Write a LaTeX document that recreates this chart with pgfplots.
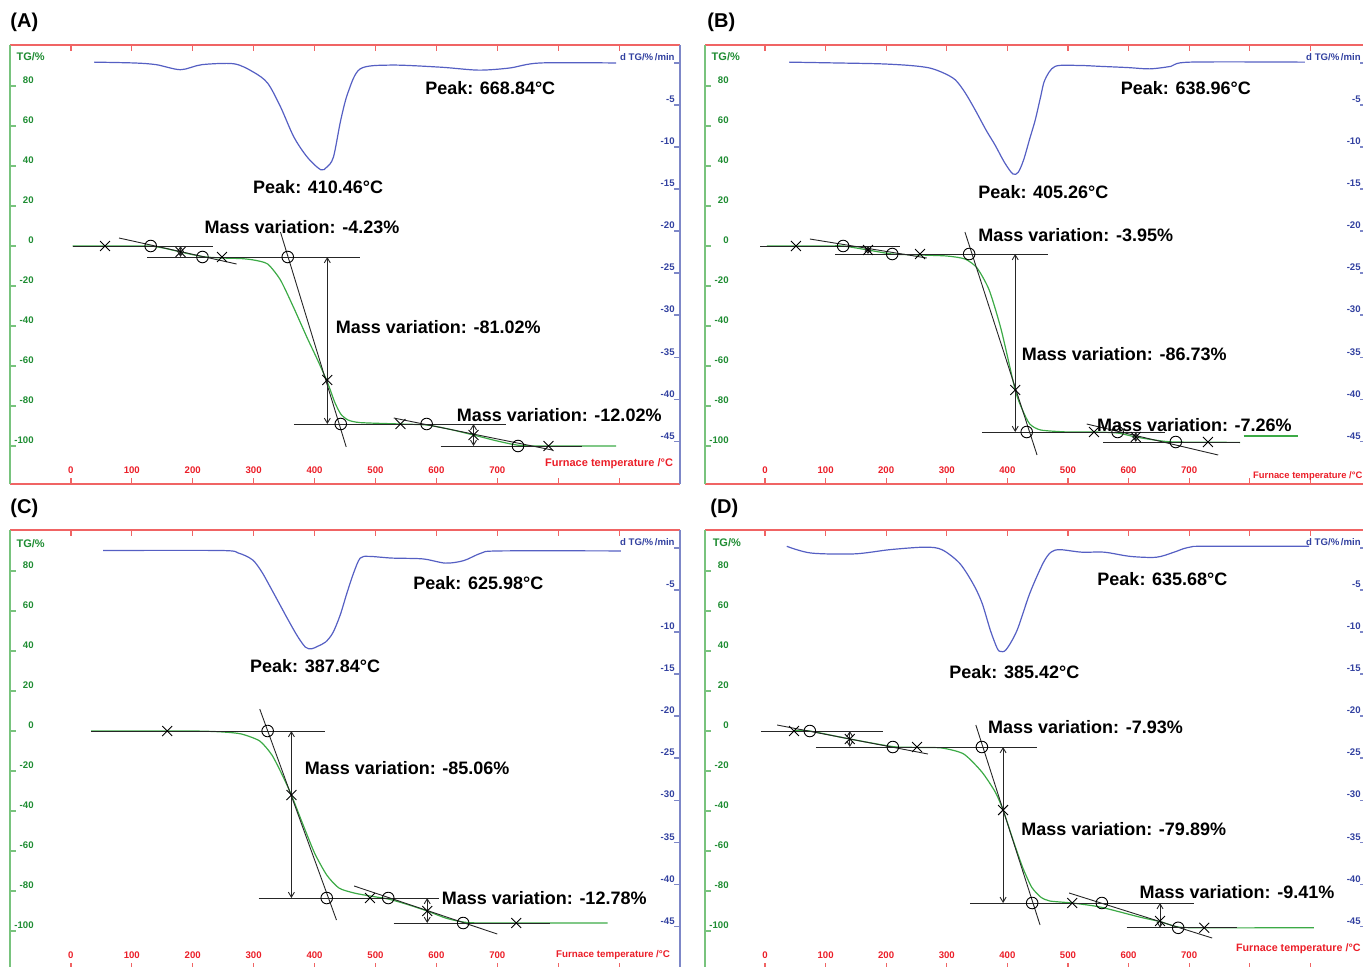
\documentclass[border=0pt]{standalone}
\usepackage{pgfplots}
\pgfplotsset{compat=1.18}
\usepackage{fontspec}
\setmainfont{Liberation Sans}
\usetikzlibrary{arrows.meta}
\definecolor{redframe}{RGB}{240,100,100}
\definecolor{redlab}{RGB}{235,30,40}
\definecolor{greenframe}{RGB}{120,195,125}
\definecolor{greenlab}{RGB}{30,140,50}
\definecolor{blueframe}{RGB}{125,135,200}
\definecolor{bluelab}{RGB}{50,65,160}
\definecolor{dtgcol}{RGB}{85,95,195}
\definecolor{tgcol}{RGB}{60,170,70}
\newcommand{\tickfont}{\fontsize{4.8}{5}\selectfont\bfseries}
\newcommand{\annfont}{\fontsize{9}{10}\selectfont\bfseries}
\newcommand{\ftfont}{\fontsize{5.5}{6}\selectfont\bfseries}
\pgfplotsset{
  base/.style={scale only axis, width=335pt, height=219.5pt, xmin=-100, xmax=1000, clip=false, tick align=inside, major tick length=3.2pt},
  narrow/.style={width=330.5pt, xmin=-99, xmax=992},
  tgaxis/.style={base, ymin=-119, ymax=100.5,
    axis x line*=box, axis y line*=left,
    x axis line style={draw=redframe, line width=0.7pt},
    y axis line style={draw=greenframe, line width=0.7pt},
    xtick={0,100,...,900},
    xticklabels={0,100,200,300,400,500,600,700,{},{}},
    xtick style={draw=redframe, line width=0.6pt},
    xticklabel style={font=\tickfont, text=redlab, anchor=south, yshift=5pt, inner sep=0pt},
    ytick={-100,-80,...,80},
    yticklabels={-100,-80,-60,-40,-20,0,20,40,60,80},
    ytick style={draw=greenframe, line width=0.6pt},
    yticklabel style={font=\tickfont, text=greenlab, anchor=south east, xshift=12pt, yshift=0.8pt, inner sep=0pt},
  },
  dtgaxis/.style={base, ymin=-50.1, ymax=2.14,
    axis x line=none, axis y line*=right,
    y axis line style={draw=blueframe, line width=0.7pt},
    ytick={-45,-40,...,0},
    yticklabels={-45,-40,-35,-30,-25,-20,-15,-10,-5,{d TG/\%\,/min}},
    ytick style={draw=blueframe, line width=0.6pt},
    yticklabel style={font=\tickfont, text=bluelab, anchor=south east, xshift=-2.5pt, yshift=0.8pt, inner sep=0pt},
  },
  tgc/.style={tgcol, line width=0.6pt, smooth, tension=0.4, no markers},
  dtgc/.style={dtgcol, line width=0.6pt, smooth, tension=0.5, no markers},
  tl/.style={black!85, line width=0.45pt, no markers},
  ar/.style={black!85, line width=0.45pt, no markers, {Straight Barb[length=2.5pt,width=3pt]}-{Straight Barb[length=2.5pt,width=3pt]}},
  xm/.style={only marks, mark=x, mark size=3.5pt, black, mark options={line width=0.45pt}},
  om/.style={only marks, mark=o, mark size=2.9pt, black, mark options={line width=0.45pt}},
}
\begin{document}
\begin{tikzpicture}
\useasboundingbox (0,0) rectangle (681.5pt,483pt);
\clip (0,0) rectangle (681.5pt,483pt);
\node[font=\fontsize{10}{12}\selectfont\bfseries, anchor=west, inner sep=0pt] at (5pt,472pt) {(A)};
\node[font=\fontsize{10}{12}\selectfont\bfseries, anchor=west, inner sep=0pt] at (353.5pt,472pt) {(B)};
\node[font=\fontsize{10}{12}\selectfont\bfseries, anchor=west, inner sep=0pt] at (5pt,229pt) {(C)};
\node[font=\fontsize{10}{12}\selectfont\bfseries, anchor=west, inner sep=0pt] at (355pt,229pt) {(D)};

% ================= Panel A =================
\begin{axis}[tgaxis, at={(5pt,460.5pt)}, anchor=north west]
\addplot[tgc] coordinates {(3,0) (100,0) (131,0) (155,-1.2) (180,-3) (216,-5.3) (248,-6) (280,-6.3) (300,-7) (323,-9) (344,-17) (366,-31) (388,-46) (405,-57) (421,-68) (433,-78) (443,-84) (455,-87) (475,-88.3) (541,-89) (584,-89.5) (620,-91.5) (661,-94.5) (700,-97.5) (734,-99.6) (770,-100) (895,-100)};
\addplot[tl] coordinates {(3,0) (233,0)};
\addplot[tl] coordinates {(79,4) (272,-9)};
\addplot[tl] coordinates {(125,-5.5) (475,-5.5)};
\addplot[tl] coordinates {(344,7) (452,-100.5)};
\addplot[tl] coordinates {(366,-89) (715,-89)};
\addplot[tl] coordinates {(530,-86) (790,-102)};
\addplot[tl] coordinates {(607,-100) (839,-100)};
\addplot[ar] coordinates {(180,0) (180,-5.5)};
\addplot[ar] coordinates {(421,-5.5) (421,-89)};
\addplot[ar] coordinates {(661,-89) (661,-100)};
\addplot[om] coordinates {(131,0) (216,-5.5) (356,-5.5) (443,-89) (584,-89) (734,-100)};
\addplot[xm] coordinates {(56,0) (180,-3) (248,-5.5) (421,-67) (541,-89) (661,-94.5) (784,-100)};
\node[font=\annfont] at (axis cs:688.5,79) {Peak: 668.84°C};
\node[font=\annfont] at (axis cs:406,29.5) {Peak: 410.46°C};
\node[font=\annfont] at (axis cs:379.5,9.5) {Mass variation: -4.23\%};
\node[font=\annfont] at (axis cs:603,-40.5) {Mass variation: -81.02\%};
\node[font=\annfont] at (axis cs:801.6,-84.5) {Mass variation: -12.02\%};
\node[font=\ftfont, text=redlab] at (axis cs:883.6,-109) {Furnace temperature /°C};
\node[font=\ftfont, text=greenlab] at (axis cs:-66,94.5) {TG/\%};
\end{axis}
\begin{axis}[dtgaxis, at={(5pt,460.5pt)}, anchor=north west]
\addplot[dtgc] coordinates {(38,0.1) (104,0) (140,-0.2) (180,-0.8) (215,-0.2) (268,-0.1) (300,-1.1) (323,-2.4) (344,-5.2) (366,-8.8) (388,-11.2) (410,-12.7) (420,-12.4) (431,-11.2) (443,-6.8) (455,-3.5) (475,-0.7) (525,-0.25) (607,-0.5) (669,-0.85) (720,-0.6) (770,0) (895,0)};
\end{axis}

% ================= Panel B =================
\begin{axis}[tgaxis, narrow, at={(352.5pt,460.5pt)}, anchor=north west]
\addplot[tgc] coordinates {(3,0) (100,0) (129,0) (170,-2) (210,-4) (256,-4.5) (300,-5) (330,-6.5) (350,-11) (370,-22) (390,-42) (413,-72) (425,-82) (437,-89) (455,-92) (500,-93) (543,-93) (582,-93.5) (612,-95.5) (650,-97.3) (678,-98) (784,-98.2)};
\addplot[tgcol, line width=0.6pt] coordinates {(790,-95) (880,-95)};
\addplot[tl] coordinates {(-8,0) (223,0)};
\addplot[tl] coordinates {(74,3.5) (267,-6)};
\addplot[tl] coordinates {(116,-4) (467,-4)};
\addplot[tl] coordinates {(330,7) (449,-104.5)};
\addplot[tl] coordinates {(358,-93) (660,-93)};
\addplot[tl] coordinates {(531,-89) (748,-104.5)};
\addplot[tl] coordinates {(558,-98) (784,-98)};
\addplot[ar] coordinates {(170,0) (170,-4)};
\addplot[ar] coordinates {(413,-4) (413,-93)};
\addplot[ar] coordinates {(612,-93) (612,-98)};
\addplot[om] coordinates {(129,0) (210,-4) (337,-4) (432,-93) (582,-93) (678,-98)};
\addplot[xm] coordinates {(51,0) (170,-2) (256,-4) (413,-72) (543,-93) (612,-95.5) (731,-98)};
\node[font=\annfont] at (axis cs:694.7,79) {Peak: 638.96°C};
\node[font=\annfont] at (axis cs:459.6,27) {Peak: 405.26°C};
\node[font=\annfont] at (axis cs:513,5.5) {Mass variation: -3.95\%};
\node[font=\annfont] at (axis cs:593,-54) {Mass variation: -86.73\%};
\node[font=\annfont] at (axis cs:708.7,-89.5) {Mass variation: -7.26\%};
\node[font=\fontsize{4.7}{5}\selectfont\bfseries, text=redlab, anchor=west, inner sep=0pt] at (axis cs:805,-115) {Furnace temperature /°C};
\node[font=\ftfont, text=greenlab] at (axis cs:-64.7,94.5) {TG/\%};
\end{axis}
\begin{axis}[dtgaxis, narrow, at={(352.5pt,460.5pt)}, anchor=north west]
\addplot[dtgc] coordinates {(40,0.1) (120,0) (190,-0.1) (240,-0.3) (272,-0.6) (295,-1.2) (314,-2) (330,-3.5) (347,-5.6) (365,-8) (380,-9.8) (395,-11.8) (409,-13.2) (418,-13) (427,-11.5) (437,-9) (446,-6.8) (455,-4) (462,-2) (479,-0.4) (520,-0.3) (553,-0.4) (600,-0.55) (635,-0.7) (670,-0.4) (701,0.1) (891,0.1)};
\end{axis}

% ================= Panel C =================
\begin{axis}[tgaxis, at={(5pt,218pt)}, anchor=north west]
\addplot[tgc] coordinates {(33,0) (200,0) (250,-0.5) (280,-1.5) (310,-5) (330,-12) (347,-22) (362,-32) (380,-46) (400,-61) (420,-72) (440,-78.5) (465,-81) (491,-82.5) (521,-84) (550,-86.5) (585,-90) (615,-93.5) (644,-95.5) (680,-96) (881,-96)};
\addplot[tl] coordinates {(33,0) (417,0)};
\addplot[tl] coordinates {(310,11) (436,-94.5)};
\addplot[tl] coordinates {(308,-83.5) (605,-83.5)};
\addplot[tl] coordinates {(465,-77.5) (700,-101.5)};
\addplot[tl] coordinates {(530,-96) (787,-96)};
\addplot[ar] coordinates {(362,0) (362,-83.5)};
\addplot[ar] coordinates {(585,-83.5) (585,-96)};
\addplot[om] coordinates {(323,0) (420,-83.5) (521,-83.5) (644,-96)};
\addplot[xm] coordinates {(158,0) (362,-32) (491,-83.5) (585,-90) (731,-96)};
\node[font=\annfont] at (axis cs:669,74) {Peak: 625.98°C};
\node[font=\annfont] at (axis cs:401,32.5) {Peak: 387.84°C};
\node[font=\annfont] at (axis cs:552,-18.5) {Mass variation: -85.06\%};
\node[font=\annfont] at (axis cs:777,-83.5) {Mass variation: -12.78\%};
\node[font=\fontsize{4.9}{5}\selectfont\bfseries, text=redlab] at (axis cs:890,-112) {Furnace temperature /°C};
\node[font=\ftfont, text=greenlab] at (axis cs:-66,93.5) {TG/\%};
\end{axis}
\begin{axis}[dtgaxis, at={(5pt,218pt)}, anchor=north west]
\addplot[dtgc] coordinates {(53,-0.3) (246,-0.3) (275,-0.6) (298,-1.4) (313,-2.8) (327,-4.6) (342,-6.6) (357,-8.6) (372,-10.5) (385,-11.8) (395,-12) (405,-11.7) (418,-11.2) (430,-10.1) (442,-8) (453,-5.4) (464,-3) (475,-1.2) (490,-1) (527,-1.2) (578,-1.3) (615,-1.8) (645,-1.5) (674,-0.6) (704,-0.35) (903,-0.35)};
\end{axis}

% ================= Panel D =================
\begin{axis}[tgaxis, narrow, at={(352.5pt,218pt)}, anchor=north west]
\addplot[tgc] coordinates {(48,0.3) (74,0) (140,-4) (211,-7.8) (251,-8.2) (292,-8.5) (328,-11.5) (358,-20.5) (380,-30.5) (393,-39.5) (410,-55) (425,-68) (440,-78) (455,-83) (470,-85) (507,-86) (553,-88) (618,-93) (652,-95.3) (682,-98) (725,-98.4) (906,-98.4)};
\addplot[tl] coordinates {(-7,0) (195,0)};
\addplot[tl] coordinates {(20,3) (269,-11.5)};
\addplot[tl] coordinates {(84,-8) (449,-8)};
\addplot[tl] coordinates {(348,3) (454,-97)};
\addplot[tl] coordinates {(338,-86) (708,-86)};
\addplot[tl] coordinates {(502,-81) (738,-103.5)};
\addplot[tl] coordinates {(597,-98.4) (779,-98.4)};
\addplot[ar] coordinates {(140,0) (140,-8)};
\addplot[ar] coordinates {(393,-8) (393,-86)};
\addplot[ar] coordinates {(652,-86) (652,-98.4)};
\addplot[om] coordinates {(74,0) (211,-8) (358,-8) (441,-86) (556,-86) (682,-98.4)};
\addplot[xm] coordinates {(48,0) (140,-4) (251,-8) (393,-39.5) (507,-86) (652,-95) (725,-98.4)};
\node[font=\annfont] at (axis cs:656,76) {Peak: 635.68°C};
\node[font=\annfont] at (axis cs:411.7,29.5) {Peak: 385.42°C};
\node[font=\annfont] at (axis cs:529,2) {Mass variation: -7.93\%};
\node[font=\annfont] at (axis cs:592,-49) {Mass variation: -79.89\%};
\node[font=\annfont] at (axis cs:779,-80.5) {Mass variation: -9.41\%};
\node[font=\fontsize{5.35}{6}\selectfont\bfseries, text=redlab, anchor=west, inner sep=0pt] at (axis cs:777,-109) {Furnace temperature /°C};
\node[font=\ftfont, text=greenlab] at (axis cs:-63,94) {TG/\%};
\end{axis}
\begin{axis}[dtgaxis, narrow, at={(352.5pt,218pt)}, anchor=north west]
\addplot[dtgc] coordinates {(36,0.2) (76,-0.6) (148,-0.7) (206,-0.2) (264,0.1) (292,-0.2) (321,-1.8) (343,-4.2) (358,-6.5) (372,-9.8) (383,-11.9) (388,-12.3) (398,-12.1) (416,-9.8) (437,-5.4) (459,-1.8) (472,-0.5) (487,-0.2) (523,-0.5) (560,-0.5) (603,-1) (646,-1.1) (675,-0.5) (690,-0.1) (705,0.15) (725,0.2) (898,0.2)};
\end{axis}
\end{tikzpicture}
\end{document}
